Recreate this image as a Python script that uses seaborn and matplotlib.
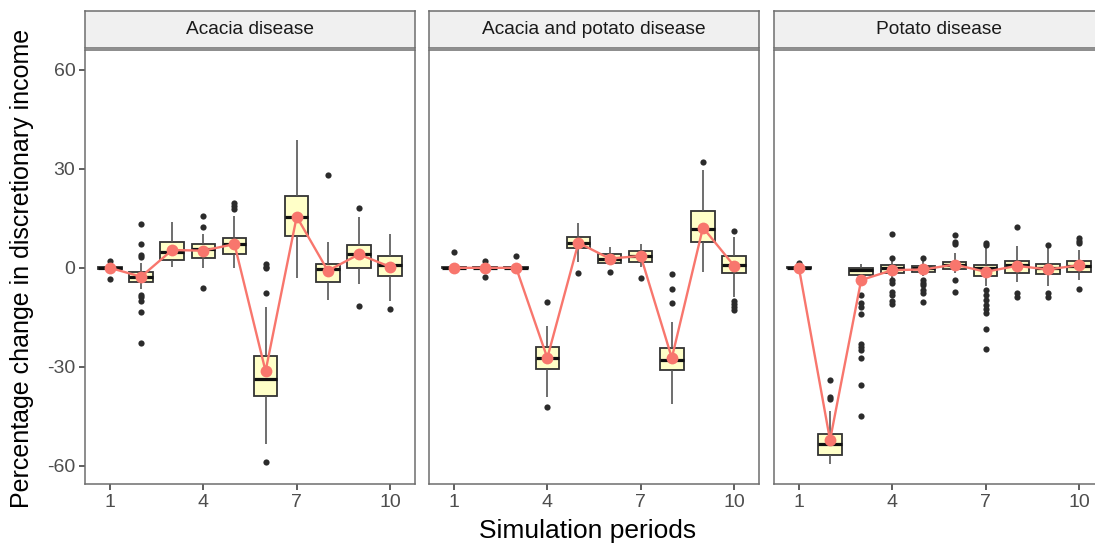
import numpy as np
import pandas as pd
import matplotlib
matplotlib.use("Agg")
import matplotlib.pyplot as plt
import seaborn as sns

# ---------------- data ----------------
scenarios = ["Acacia disease", "Acacia and potato disease", "Potato disease"]
periods = [1, 2, 3, 4, 5, 6, 7, 8, 9, 10]
x_ticks = [1, 4, 7, 10]
y_ticks = [-60, -30, 0, 30, 60]

# Acacia disease
acacia_q1 = [-0.3, -4.3, 2.3, 3.0, 4.1, -38.7, 9.6, -4.3, 0.0, -2.4]
acacia_med = [0.0, -2.7, 4.9, 5.7, 7.1, -33.7, 15.5, -0.5, 4.1, 0.8]
acacia_q3 = [0.3, -1.2, 7.7, 7.1, 9.1, -26.8, 21.9, 1.1, 6.9, 3.5]
acacia_lo = [-1.0, -6.5, 0.3, -0.2, -0.2, -53.4, -3.0, -9.8, -4.8, -10.1]
acacia_hi = [1.0, 1.5, 13.8, 10.4, 15.7, -11.9, 38.8, 7.9, 15.5, 10.4]
acacia_mean = [0.0, -2.7, 5.4, 5.2, 7.2, -31.3, 15.5, -0.9, 4.1, 0.3]
acacia_out = [[2.0, -3.4], [13.3, 7.1, 3.9, 3.3, -8.1, -8.8, -10.1, -13.4, -22.7], [],
              [15.6, 12.5, -6.0], [19.6, 18.7, 17.9], [1.1, 0.3, -0.2, -7.5, -58.8], [],
              [28.0], [18.0, -11.7], [-12.5]]

# Acacia and potato disease
both_q1 = [-0.2, -0.2, -0.2, -30.6, 5.9, 1.6, 1.8, -31.1, 7.9, -1.7]
both_med = [0.0, 0.0, 0.0, -27.3, 7.6, 2.8, 3.6, -27.8, 11.7, 1.0]
both_q3 = [0.2, 0.2, 0.2, -24.0, 9.4, 4.2, 5.2, -24.2, 17.2, 3.6]
both_lo = [-0.5, -0.5, -0.5, -39.2, 1.8, 1.3, 0.3, -41.2, -1.2, -8.8]
both_hi = [0.5, 0.5, 0.5, -17.6, 13.7, 6.2, 7.2, -16.4, 29.5, 9.4]
both_mean = [0.0, 0.0, 0.0, -27.3, 7.6, 2.8, 3.6, -27.3, 12.2, 0.6]
both_out = [[4.9], [2.1, -2.9], [3.6], [-10.3, -42.2], [-1.7], [-1.4], [-3.0],
            [-2.0, -6.5, -10.8], [32.2], [11.2, -10.0, -11.0, -12.0, -12.8]]

# Potato disease
potato_q1 = [-0.2, -56.6, -2.2, -1.5, -1.2, -0.5, -2.4, -1.5, -1.9, -1.2]
potato_med = [0.0, -53.4, -0.7, 0.0, 0.0, 0.8, -0.2, 0.8, 0.0, 0.6]
potato_q3 = [0.2, -50.2, 0.0, 0.8, 0.6, 1.8, 0.8, 2.0, 1.3, 2.0]
potato_lo = [-0.5, -59.3, -3.5, -3.0, -2.5, -1.7, -5.5, -4.3, -5.5, -3.7]
potato_hi = [0.5, -43.3, 1.3, 2.5, 2.0, 4.4, 7.0, 6.7, 6.0, 5.4]
potato_mean = [0.0, -52.2, -3.7, -0.7, -0.5, 1.0, -1.2, 0.6, -0.5, 0.8]
potato_out = [[1.5], [-33.9, -39.0, -39.7],
              [-8.1, -10.8, -11.9, -13.9, -23.0, -24.0, -25.0, -27.3, -35.4, -44.8],
              [10.2, 3.1, -3.7, -4.5, -7.3, -8.1, -10.1, -11.0],
              [3.1, -3.7, -4.6, -5.3, -6.6, -7.6, -10.3],
              [9.9, 7.9, 7.2, -3.7, -7.3],
              [7.6, 6.9, -6.8, -8.3, -9.8, -11.4, -12.4, -13.7, -18.5, -24.5],
              [12.5, -7.5, -8.8], [6.9, -7.6, -8.8], [8.9, 8.2, 7.4, -6.3]]

groups = {
    "Acacia disease": (acacia_lo, acacia_q1, acacia_med, acacia_q3, acacia_hi, acacia_mean, acacia_out),
    "Acacia and potato disease": (both_lo, both_q1, both_med, both_q3, both_hi, both_mean, both_out),
    "Potato disease": (potato_lo, potato_q1, potato_med, potato_q3, potato_hi, potato_mean, potato_out),
}

# ---------------- style ----------------
FONT = ["Liberation Sans", "DejaVu Sans"]
sns.set_theme(style="white")
plt.rcParams["font.family"] = FONT

BOX_FILL = "#FFFFC8"
MEAN_COL = "#F8766D"
FRAME = "#6E6E6E"

fig = plt.figure(figsize=(10.95, 5.44), dpi=100)
W, H = 1095.0, 544.0
panel_left = [85, 429, 774]
panel_w = 330
top_px, bottom_px = 50, 484
strip_top = 11

for i, sc in enumerate(scenarios):
    lo, q1, med, q3, hi, mean, outl = groups[sc]
    box_rows = []
    for p, a, b, c, d, e in zip(periods, lo, q1, med, q3, hi):
        for v in (a, b, c, d, e):
            box_rows.append({"period": p, "value": v})
    box_df = pd.DataFrame(box_rows)
    out_df = pd.DataFrame([{"period": p, "value": v} for p, vs in zip(periods, outl) for v in vs])
    mean_df = pd.DataFrame({"period": periods, "mean": mean})

    ax = fig.add_axes([panel_left[i] / W, (H - bottom_px) / H,
                       panel_w / W, (bottom_px - top_px) / H])
    sns.boxplot(data=box_df, x="period", y="value", native_scale=True, whis=(0, 100),
                showfliers=False, showcaps=False, width=0.75, saturation=1,
                color=BOX_FILL, linecolor="#333333", linewidth=1.3,
                medianprops=dict(color="#111111", linewidth=2.3),
                whiskerprops=dict(color="#555555", linewidth=1.2),
                ax=ax)
    sns.scatterplot(data=out_df, x="period", y="value", color="#2b2b2b", s=20,
                    linewidth=0, ax=ax, zorder=3)
    sns.lineplot(data=mean_df, x="period", y="mean", color=MEAN_COL, linewidth=1.7,
                 marker="o", markersize=8.5, markeredgewidth=0, ax=ax, zorder=5)

    ax.set_xlim(0.2, 10.8)
    ax.set_ylim(-65.5, 66)
    ax.set_xticks(x_ticks)
    ax.set_xticklabels([str(t) for t in x_ticks])
    ax.set_yticks(y_ticks)
    ax.set_xlabel("")
    ax.set_ylabel("")
    ax.set_facecolor("white")
    for s in ax.spines.values():
        s.set_visible(True)
        s.set_color(FRAME)
        s.set_linewidth(1.1)
    ax.tick_params(axis="x", length=4, width=1.1, color="#333333", labelsize=14,
                   labelcolor="#4D4D4D", pad=3, bottom=True)
    if i == 0:
        ax.tick_params(axis="y", length=4, width=1.1, color="#333333", labelsize=14,
                       labelcolor="#4D4D4D", pad=3, left=True)
        ax.set_yticklabels([str(t) for t in y_ticks])
    else:
        ax.tick_params(axis="y", left=False, labelleft=False)
    ax.grid(False)

    sax = fig.add_axes([panel_left[i] / W, (H - top_px + 2) / H,
                        panel_w / W, (top_px - 2 - strip_top) / H])
    sax.set_facecolor("#F0F0F0")
    sax.set_xticks([])
    sax.set_yticks([])
    for s in sax.spines.values():
        s.set_visible(True)
        s.set_color(FRAME)
        s.set_linewidth(1.1)
    sax.text(0.5, 0.5, sc, ha="center", va="center", fontsize=13.8,
             color="#1A1A1A", transform=sax.transAxes)

fig.text(588 / W, 1 - 531 / H, "Simulation periods", ha="center", va="center",
         fontsize=19, color="black")
fig.text(22 / W, 1 - 268 / H, "Percentage change in discretionary income",
         ha="center", va="center", rotation=90, fontsize=18, color="black")

fig.savefig("out.png", dpi=100)
